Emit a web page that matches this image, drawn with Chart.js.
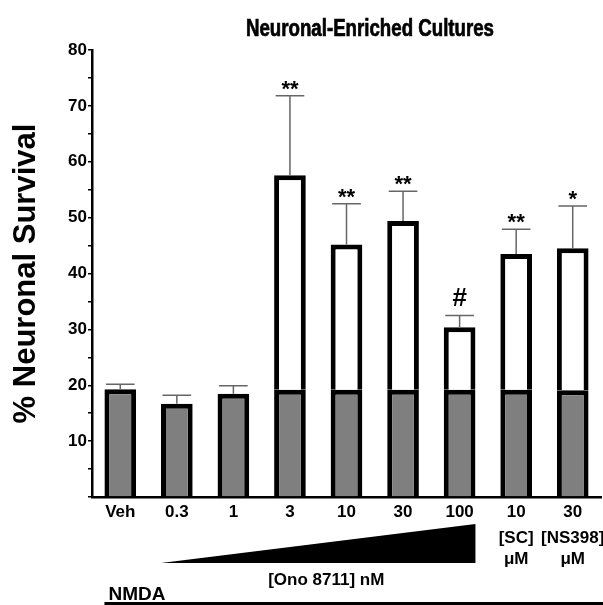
<!DOCTYPE html>
<html>
<head>
<meta charset="utf-8">
<script src="https://cdn.jsdelivr.net/npm/chart.js@4.4.1/dist/chart.umd.min.js"></script>
<style>
  html, body { margin: 0; padding: 0; background: #fff; }
  #wrap { width: 603px; height: 605px; }
</style>
</head>
<body>
<div id="wrap"><canvas id="myChart"></canvas></div>
<script>
var categories = ["Veh", "0.3", "1", "3", "10", "30", "100", "10", "30"];
var baseValues = [19.3, 16.7, 18.5, 19.2, 19.2, 19.2, 19.2, 19.2, 19.1];
var totalValues = [19.3, 16.7, 18.5, 57.6, 45.2, 49.4, 30.4, 43.5, 44.5];
var semValues = [0.9, 1.5, 1.4, 14.2, 7.3, 5.3, 2.1, 4.4, 7.6];
var marks = ["", "", "", "**", "**", "**", "#", "**", "*"];
var subLabels = [[], [], [], [], [], [], [], ["[SC]", "μM"], ["[NS398]", "μM"]];

var FONT = '"Liberation Sans", Arial, sans-serif';

// white part of the bar = what sits above the NMDA baseline
var addedValues = totalValues.map(function (t, i) {
  return t > baseValues[i] ? +(t - baseValues[i]).toFixed(1) : null;
});

var extras = {
  id: 'extras',
  afterDatasetsDraw: function (chart) {
    var ctx = chart.ctx;
    var y = chart.scales.y;
    var bars = chart.getDatasetMeta(0).data;
    ctx.save();
    bars.forEach(function (bar, i) {
      var top = y.getPixelForValue(totalValues[i]);
      var cap = y.getPixelForValue(totalValues[i] + semValues[i]);
      var half = bar.width / 2 - 1.5;
      ctx.strokeStyle = '#666';
      ctx.lineWidth = 1.5;
      ctx.beginPath();
      ctx.moveTo(bar.x, top);
      ctx.lineTo(bar.x, cap);
      ctx.moveTo(bar.x - half, cap);
      ctx.lineTo(bar.x + half, cap);
      ctx.stroke();
      if (marks[i]) {
        ctx.fillStyle = '#000';
        ctx.textAlign = 'center';
        ctx.textBaseline = 'alphabetic';
        if (marks[i] === '#') {
          ctx.font = 'bold 26px ' + FONT;
          ctx.fillText(marks[i], bar.x, cap - 9);
        } else {
          ctx.font = 'bold 22px ' + FONT;
          ctx.fillText(marks[i], bar.x, cap);
        }
      }
    });
    ctx.restore();
  },
  afterDraw: function (chart) {
    var ctx = chart.ctx;
    var area = chart.chartArea;
    var bars = chart.getDatasetMeta(0).data;
    ctx.save();
    ctx.fillStyle = '#000';
    ctx.strokeStyle = '#000';

    // title, squeezed to the narrow look of the original
    ctx.font = 'bold 23px "Liberation Sans Narrow", ' + FONT;
    ctx.textAlign = 'center';
    ctx.textBaseline = 'alphabetic';
    var title = 'Neuronal-Enriched Cultures';
    var w = ctx.measureText(title).width;
    ctx.save();
    ctx.translate(370, 36);
    if (w > 252) ctx.scale(248 / w, 1);
    ctx.lineWidth = 0.7;
    ctx.fillText(title, 0, 0);
    ctx.strokeText(title, 0, 0);
    ctx.restore();

    // second / third label lines under the last two bars
    ctx.font = 'bold 17px ' + FONT;
    ctx.textBaseline = 'middle';
    bars.forEach(function (bar, i) {
      subLabels[i].forEach(function (txt, k) {
        ctx.fillText(txt, bar.x, area.bottom + 41 + k * 21);
      });
    });

    // dose wedge
    var left = bars[1].x - bars[1].width / 2;
    var right = bars[6].x + bars[6].width / 2;
    ctx.beginPath();
    ctx.moveTo(left, area.bottom + 66);
    ctx.lineTo(right, area.bottom + 66);
    ctx.lineTo(right, area.bottom + 27);
    ctx.closePath();
    ctx.fill();

    ctx.font = 'bold 17px ' + FONT;
    ctx.fillText('[Ono 8711] nM', (left + right) / 2 + 8, area.bottom + 83);

    // NMDA bar
    var x0 = bars[0].x - bars[0].width / 2;
    ctx.font = 'bold 19px ' + FONT;
    ctx.textAlign = 'left';
    ctx.textBaseline = 'alphabetic';
    ctx.fillText('NMDA', x0 + 4, area.bottom + 103);
    ctx.fillRect(x0, area.bottom + 105, chart.width - x0, 3);
    ctx.restore();
  }
};

var ctx = document.getElementById("myChart");
var myChart = new Chart(ctx, {
  type: 'bar',
  data: {
    labels: categories,
    datasets: [{
      data: baseValues,
      backgroundColor: '#7f7f7f',
      borderColor: '#000',
      borderWidth: 5
    }, {
      data: addedValues,
      backgroundColor: '#fff',
      borderColor: '#000',
      borderWidth: 5
    }]
  },
  options: {
    responsive: true,
    maintainAspectRatio: false,
    animation: false,
    layout: { padding: { top: 50, right: 2, bottom: 0, left: 0 } },
    datasets: { bar: { barPercentage: 0.56, categoryPercentage: 1 } },
    plugins: {
      legend: { display: false },
      tooltip: { enabled: false }
    },
    scales: {
      x: {
        stacked: true,
        grid: { display: false, drawTicks: false },
        border: { color: '#000', width: 2.5 },
        ticks: { color: '#000', font: { family: FONT, size: 17, weight: 'bold' }, padding: 5, maxRotation: 0 },
        afterFit: function (scale) { scale.height = 108; }
      },
      y: {
        stacked: true,
        min: 0,
        max: 80,
        grid: { drawOnChartArea: false, color: '#000', lineWidth: 1.5, tickLength: 4 },
        border: { color: '#000', width: 2.5 },
        ticks: {
          stepSize: 5,
          color: '#000',
          padding: 1,
          font: { family: FONT, size: 17, weight: 'bold' },
          callback: function (v) { return (v % 10 === 0 && v !== 0) ? v : ''; }
        },
        title: {
          display: true,
          text: '% Neuronal Survival',
          color: '#000',
          font: { family: FONT, size: 31, weight: 'bold' },
          padding: { top: 8, bottom: 0 }
        },
        afterFit: function (scale) { scale.width = 92; }
      }
    }
  },
  plugins: [extras]
});
</script>
</body>
</html>
